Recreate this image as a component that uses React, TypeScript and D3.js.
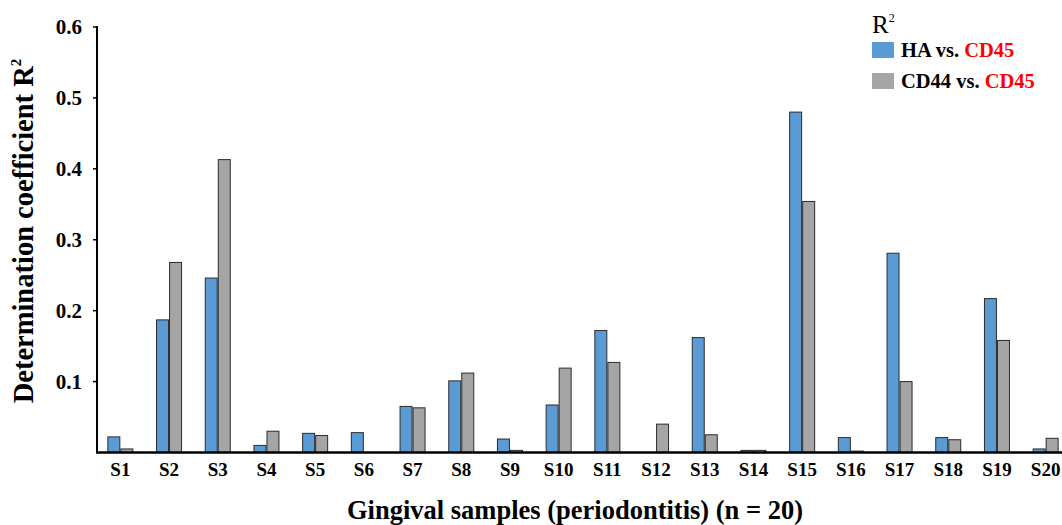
import React from 'react';
import * as d3 from 'd3';

const samples = ['S1', 'S2', 'S3', 'S4', 'S5', 'S6', 'S7', 'S8', 'S9', 'S10',
  'S11', 'S12', 'S13', 'S14', 'S15', 'S16', 'S17', 'S18', 'S19', 'S20'];
const haVsCd45 = [0.022, 0.187, 0.246, 0.01, 0.027, 0.028, 0.065, 0.101, 0.019, 0.067,
  0.172, 0, 0.162, 0.003, 0.48, 0.021, 0.281, 0.021, 0.217, 0.005];
const cd44VsCd45 = [0.005, 0.268, 0.413, 0.03, 0.024, 0, 0.063, 0.112, 0.003, 0.119,
  0.127, 0.04, 0.025, 0.003, 0.354, 0.002, 0.1, 0.018, 0.158, 0.02];
const seriesNames = ['HA', 'CD44'];
const yTicks = [0.1, 0.2, 0.3, 0.4, 0.5, 0.6];

const colors = { HA: '#5b9bd5', CD44: '#a5a5a5' };
const font = "'Liberation Serif', 'Times New Roman', Times, 'DejaVu Serif', serif";

const App = () => {
  const width = 1062;
  const height = 525;
  const axisX = 97;
  const baseY = 452.5;

  const xScale = d3.scaleBand().domain(samples).range([96, 1070]);
  const inner = d3.scaleBand().domain(seriesNames).range([-12.5, 12.5]).paddingInner(0.08);
  const yScale = d3.scaleLinear().domain([0, 0.6]).range([baseY, 27]);

  const rows = samples.map((s, i) => ({ s, HA: haVsCd45[i], CD44: cd44VsCd45[i] }));

  return (
    <svg width={width} height={height}
      style={{ position: 'absolute', left: 0, top: 0, background: '#fff', fontFamily: font }}>
      {rows.map(d => (
        <g key={d.s} transform={`translate(${xScale(d.s) + xScale.bandwidth() / 2},0)`}>
          {seriesNames.map(k => d[k] > 0 && (
            <rect key={k} x={inner(k)} y={yScale(d[k])} width={inner.bandwidth()}
              height={baseY - yScale(d[k])} fill={colors[k]} stroke="#2b2b2b" strokeWidth={1} />
          ))}
          <text y={476} textAnchor="middle" fontSize={19} fontWeight="bold">{d.s}</text>
        </g>
      ))}

      {/* axes */}
      <line x1={axisX} x2={axisX} y1={26} y2={baseY} stroke="#000" strokeWidth={2} />
      <line x1={axisX - 1} x2={width} y1={baseY} y2={baseY} stroke="#000" strokeWidth={2.5} />
      {yTicks.map(t => (
        <g key={t} transform={`translate(0,${yScale(t)})`}>
          <line x1={axisX - 4} x2={axisX} stroke="#000" strokeWidth={1.5} />
          <text x={82} dy="0.35em" textAnchor="end" fontSize={21} fontWeight="bold">{t.toFixed(1)}</text>
        </g>
      ))}

      <text transform={`translate(33,231) rotate(-90)`} textAnchor="middle" fontSize={28.5} fontWeight="bold">
        Determination coefficient R<tspan fontSize={15} dy={-12}>2</tspan>
      </text>
      <text x={575} y={519} textAnchor="middle" fontSize={26.5} fontWeight="bold">
        Gingival samples (periodontitis) (n = 20)
      </text>

      {/* legend */}
      <text x={872} y={33} fontSize={25}>R<tspan fontSize={12} dy={-11}>2</tspan></text>
      {seriesNames.map((k, i) => (
        <g key={k} transform={`translate(872,${42 + i * 31})`}>
          <rect width={22} height={16} fill={colors[k]} />
          <text x={29} y={15} fontSize={20.5} fontWeight="bold">
            {k} vs. <tspan fill="#ff0000">CD45</tspan>
          </text>
        </g>
      ))}
    </svg>
  );
};

export default App;
